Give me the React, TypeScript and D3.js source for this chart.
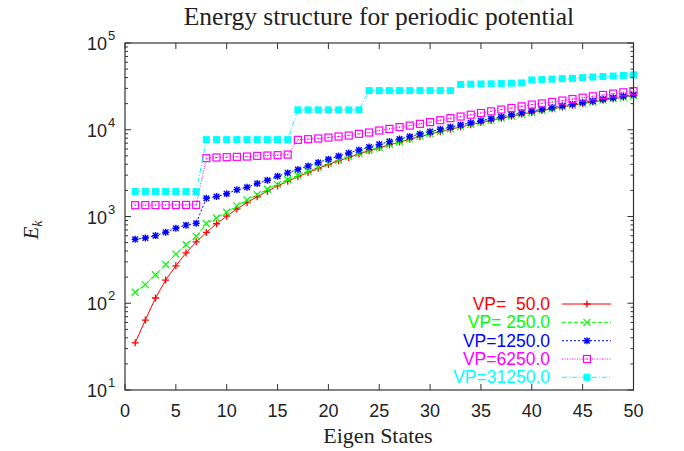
import React from "react";
import * as d3 from "d3";

const states = d3.range(1, 51);

const vp50 = [35, 64, 115, 185, 270, 380, 510, 655, 825, 1010, 1220, 1450, 1690, 1960, 2250, 2550, 2880, 3220, 3590, 3970, 4380, 4800, 5250, 5710, 6190, 6700, 7220, 7760, 8330, 8910, 9510, 10130, 10770, 11430, 12120, 12820, 13540, 14280, 15040, 15820, 16620, 17440, 18270, 19130, 20010, 20910, 21830, 22770, 23720, 24700];
const vp250 = [134, 164, 213, 280, 368, 472, 590, 830, 960, 1120, 1325, 1550, 1790, 2060, 2350, 2650, 2980, 3320, 3690, 4070, 4480, 4900, 5350, 5810, 6290, 6800, 7320, 7860, 8430, 9010, 9610, 10230, 10870, 11530, 12220, 12920, 13640, 14380, 15140, 15920, 16720, 17540, 18370, 19230, 20110, 21010, 21930, 22870, 23820, 24800];
const vp1250 = [547, 566, 602, 659, 733, 795, 837, 1626, 1700, 1830, 2030, 2170, 2400, 2620, 2910, 3180, 3480, 3820, 4190, 4570, 4980, 5400, 5850, 6310, 6790, 7300, 7820, 8360, 8930, 9510, 10110, 10730, 11370, 12030, 12720, 13420, 14140, 14880, 15640, 16420, 17220, 18040, 18870, 19730, 20610, 21510, 22430, 23370, 24320, 25300];
const vp6250 = [1350, 1352, 1354, 1356, 1358, 1360, 1362, 4700, 4790, 4830, 4870, 4910, 5000, 5045, 5090, 5170, 7650, 7780, 7925, 8130, 8355, 8570, 8970, 9290, 9800, 10230, 10720, 11170, 11700, 12240, 12880, 13600, 14200, 14900, 15600, 16300, 17100, 17800, 18600, 19500, 20100, 20900, 21700, 22600, 23400, 24300, 25200, 26100, 27000, 27900];
const vp31250 = [1940, 1940, 1940, 1940, 1940, 1940, 1940, 7700, 7700, 7700, 7700, 7700, 7700, 7700, 7700, 7700, 16950, 16950, 16950, 16950, 16950, 16950, 16950, 28300, 28300, 28300, 28300, 28300, 28300, 28300, 28300, 28300, 33300, 33500, 33700, 33900, 34100, 34400, 34700, 37500, 37900, 38300, 38800, 39200, 39900, 40500, 41100, 41600, 42200, 42900];

const seriesLabels = ["VP=  50.0", "VP= 250.0", "VP=1250.0", "VP=6250.0", "VP=31250.0"];
const seriesValues = [vp50, vp250, vp1250, vp6250, vp31250];
const seriesColors = ["#ff0000", "#00ff00", "#0000ff", "#ff00ff", "#00ffff"];
const seriesDash = ["none", "4,2", "2,2", "1,1.5", "5,2,1,2"];
const seriesMarker = ["plus", "cross", "star", "box", "fbox"];

const xTicks = [0, 5, 10, 15, 20, 25, 30, 35, 40, 45, 50];
const yDecades = [1, 2, 3, 4, 5];

const W = 684, H = 451;
const L = 125, R = 633.5, T = 43, B = 390;

function Marker({ type, x, y, color }: { type: string; x: number; y: number; color: string }) {
  const s = 3.5;
  if (type === "plus")
    return (
      <path d={`M${x - s},${y}H${x + s}M${x},${y - s}V${y + s}`} stroke={color} strokeWidth={1.3} fill="none" />
    );
  if (type === "cross")
    return (
      <path d={`M${x - s},${y - s}L${x + s},${y + s}M${x - s},${y + s}L${x + s},${y - s}`} stroke={color} strokeWidth={1.2} fill="none" />
    );
  if (type === "star")
    return (
      <path
        d={`M${x - s},${y}H${x + s}M${x},${y - s}V${y + s}M${x - s * 0.8},${y - s * 0.8}L${x + s * 0.8},${y + s * 0.8}M${x - s * 0.8},${y + s * 0.8}L${x + s * 0.8},${y - s * 0.8}`}
        stroke={color}
        strokeWidth={1.4}
        fill="none"
      />
    );
  if (type === "box")
    return (
      <g>
        <rect x={x - 3.5} y={y - 3.5} width={7} height={7} stroke={color} strokeWidth={1.2} fill="none" />
        <rect x={x - 0.6} y={y - 0.6} width={1.2} height={1.2} fill={color} />
      </g>
    );
  return <rect x={x - 3.5} y={y - 3.5} width={7} height={7} fill={color} />;
}

export default function App() {
  const x = d3.scaleLinear().domain([0, 50]).range([L, R]);
  const y = d3.scaleLog().domain([10, 1e5]).range([B, T]);
  const line = d3
    .line<number>()
    .x((_, i) => x(states[i]))
    .y((d) => y(d));

  const minor: number[] = [];
  for (let e = 1; e < 5; e++) for (let m = 2; m <= 9; m++) minor.push(m * Math.pow(10, e));

  const sans = "'Liberation Sans', Arial, sans-serif";
  const serif = "'Liberation Serif', 'Times New Roman', serif";
  const legendY = [304, 322.3, 340.7, 359, 377.3];

  return (
    <svg width={W} height={H} style={{ position: "absolute", left: 0, top: 0, background: "#fff" }}>
      <rect width={W} height={H} fill="#fff" />
      <text x={379} y={25} textAnchor="middle" fontFamily={serif} fontSize={25.5} fill="#222">
        Energy structure for periodic potential
      </text>
      {seriesValues.map((vals, si) => (
        <g key={si}>
          <path
            d={line(vals) || ""}
            fill="none"
            stroke={seriesColors[si]}
            strokeWidth={1}
            strokeDasharray={seriesDash[si]}
          />
          {vals.map((v, i) => (
            <Marker key={i} type={seriesMarker[si]} x={x(states[i])} y={y(v)} color={seriesColors[si]} />
          ))}
        </g>
      ))}
      <rect x={L} y={T} width={R - L} height={B - T} fill="none" stroke="#333" strokeWidth={1.2} />
      {xTicks.map((t) => (
        <g key={t}>
          <line x1={x(t)} x2={x(t)} y1={B} y2={B - 6} stroke="#333" />
          <line x1={x(t)} x2={x(t)} y1={T} y2={T + 6} stroke="#333" />
          <text x={x(t)} y={417} textAnchor="middle" fontFamily={sans} fontSize={18} fill="#222">
            {t}
          </text>
        </g>
      ))}
      {yDecades.map((e) => {
        const yy = y(Math.pow(10, e));
        return (
          <g key={e}>
            <line x1={L} x2={L + 6} y1={yy} y2={yy} stroke="#333" />
            <line x1={R} x2={R - 6} y1={yy} y2={yy} stroke="#333" />
            <text x={107} y={yy + 7} textAnchor="end" fontFamily={sans} fontSize={18} fill="#222">
              10
            </text>
            <text x={108} y={yy - 3} textAnchor="start" fontFamily={sans} fontSize={13} fill="#222">
              {e}
            </text>
          </g>
        );
      })}
      {minor.map((m) => (
        <g key={m}>
          <line x1={L} x2={L + 3} y1={y(m)} y2={y(m)} stroke="#333" />
          <line x1={R} x2={R - 3} y1={y(m)} y2={y(m)} stroke="#333" />
        </g>
      ))}
      <text x={378} y={443} textAnchor="middle" fontFamily={serif} fontSize={22} fill="#222">
        Eigen States
      </text>
      <text
        transform={`translate(38,230) rotate(-90)`}
        textAnchor="middle"
        fontFamily={serif}
        fontStyle="italic"
        fontSize={21}
        fill="#222"
      >
        E<tspan fontSize={14} dy={4}>k</tspan>
      </text>
      {seriesLabels.map((lab, si) => (
        <g key={lab}>
          <text
            x={550}
            y={legendY[si] + 6}
            textAnchor="end"
            fontFamily={sans}
            fontSize={17.5}
            fill={seriesColors[si]}
            style={{ whiteSpace: "pre" }}
            xmlSpace="preserve"
          >
            {lab}
          </text>
          <line
            x1={562}
            x2={611}
            y1={legendY[si]}
            y2={legendY[si]}
            stroke={seriesColors[si]}
            strokeDasharray={seriesDash[si]}
          />
          <Marker type={seriesMarker[si]} x={587} y={legendY[si]} color={seriesColors[si]} />
        </g>
      ))}
    </svg>
  );
}
